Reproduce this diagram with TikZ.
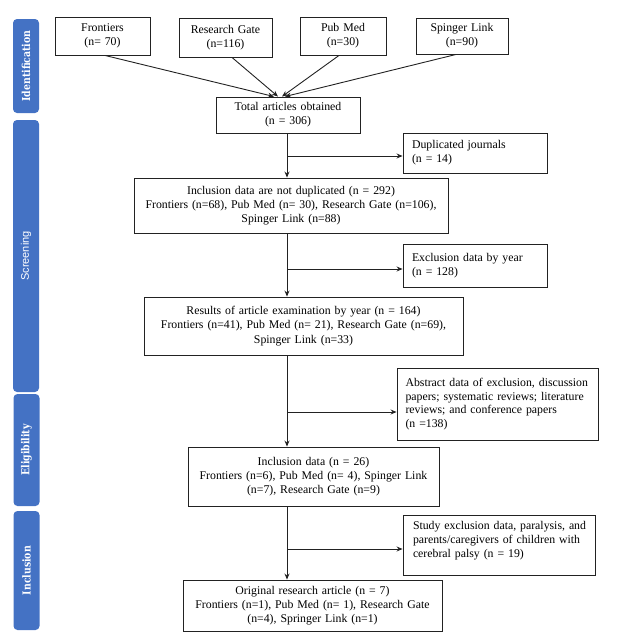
\documentclass[tikz,border=0pt]{standalone}
\usepackage{fontspec}
\setmainfont{Liberation Serif}
\newfontfamily\barserif{DejaVu Serif}
\newfontfamily\barsans{Liberation Sans}
\usetikzlibrary{arrows.meta}
\definecolor{barblue}{HTML}{4472C4}
\definecolor{boxline}{HTML}{222222}
\newcommand\oneline[1]{\mbox{#1}}
\newcommand\bartext[1]{\scalebox{0.85}[1]{#1}}
\tikzset{
  box/.style={draw=boxline, line width=0.9pt, inner sep=0pt, align=center,
    font=\fontsize{11.8}{14.3}\selectfont, text=black},
  lbox/.style={box, align=left},
  bar/.style={fill=barblue, rounded corners=4pt, rotate=90, inner sep=0pt,
    minimum height=26pt, text=white, font=\barserif\bfseries\fontsize{11}{12}\selectfont},
  conn/.style={line width=0.9pt, draw=boxline},
  arr/.style={conn, -{Stealth[length=6pt,width=5pt]}},
}
\begin{document}
\begin{tikzpicture}[x=1pt,y=-1pt]
\useasboundingbox (0,0) rectangle (623,641);
% phase bars
\node[bar, minimum width=94pt] (idb) at (26,66) {\bartext{Identification}};
\node[bar, minimum width=272pt, font=\barsans\fontsize{11}{12}\selectfont] (scb) at (26,256) {Screening};
\node[bar, minimum width=112pt] (elb) at (26.5,450) {\bartext{Eligibility}};
\node[bar, minimum width=119pt] (inb) at (26.5,570.5) {\bartext{Inclusion}};
% sources
\node[box, minimum width=95pt, minimum height=38pt, text width=92pt] (fr) at (102.5,36) {Frontiers\\(n= 70)};
\node[box, minimum width=93pt, minimum height=39pt, text width=90pt] (rg) at (225.5,37.5) {Research Gate\\(n=116)};
\node[box, minimum width=86pt, minimum height=38pt, text width=84pt] (pm) at (343,36) {Pub Med\\(n=30)};
\node[box, minimum width=92pt, minimum height=36pt, text width=90pt] (sl) at (462,36) {Spinger Link\\(n=90)};
% main column
\node[box, minimum width=144pt, minimum height=36pt, text width=142pt] (tot) at (288,115) {Total articles obtained\\(n = 306)};
\node[box, minimum width=314pt, minimum height=55pt, text width=310pt] (inc1) at (291,205.5) {Inclusion data are not duplicated (n = 292)\\Frontiers (n=68), Pub Med (n= 30), Research Gate (n=106),\\Spinger Link (n=88)};
\node[box, minimum width=319pt, minimum height=58pt, text width=315pt] (res) at (303.5,326) {Results of article examination by year (n = 164)\\Frontiers (n=41), Pub Med (n= 21), Research Gate (n=69),\\Spinger Link (n=33)};
\node[box, minimum width=251pt, minimum height=59pt, text width=248pt] (inc2) at (313.5,476.5) {Inclusion data (n = 26)\\Frontiers (n=6), Pub Med (n= 4), Spinger Link\\(n=7), Research Gate (n=9)};
\node[box, minimum width=259pt, minimum height=51pt, text width=256pt] (orig) at (312.5,605.5) {Original research article (n = 7)\\Frontiers (n=1), Pub Med (n= 1), Research Gate\\(n=4), Springer Link (n=1)};
% exclusion boxes
\node[lbox, minimum width=144pt, minimum height=40pt, text width=126pt] (dup) at (475,153) {\oneline{Duplicated journals}\\\oneline{(n = 14)}};
\node[lbox, minimum width=144pt, minimum height=43pt, text width=126pt] (exy) at (475,265.5) {\oneline{Exclusion data by year}\\\oneline{(n = 128)}};
\node[lbox, minimum width=201pt, minimum height=72pt, text width=184pt, font=\fontsize{11.8}{13.8}\selectfont] (abs) at (497.5,404) {\oneline{Abstract data of exclusion, discussion}\\\oneline{papers; systematic reviews; literature}\\\oneline{reviews; and conference papers}\\\oneline{(n =138)}};
\node[lbox, minimum width=192pt, minimum height=60pt, text width=172pt, font=\fontsize{11.8}{14}\selectfont] (stu) at (499,545) {\oneline{Study exclusion data, paralysis, and}\\\oneline{parents/caregivers of children with}\\\oneline{cerebral palsy (n = 19)}\\[-2pt]\mbox{}};
% connectors from sources
\draw[arr] ([xshift=2.5pt]fr.south) -- ([xshift=-14pt]tot.north);
\draw[arr] ([xshift=6.5pt]rg.south) -- ([xshift=-10pt]tot.north);
\draw[arr] ([xshift=-4pt]pm.south) -- ([xshift=-6pt]tot.north);
\draw[arr] ([xshift=-6pt]sl.south) -- ([xshift=-3pt]tot.north);
% spine
\coordinate (sp) at (287,0);
\draw[arr] (tot.south -| sp) -- (inc1.north -| sp);
\draw[arr] (inc1.south -| sp) -- (res.north -| sp);
\draw[arr] (res.south -| sp) -- (inc2.north -| sp);
\draw[arr] (inc2.south -| sp) -- (orig.north -| sp);
% branches
\coordinate (b1) at (287,156);
\coordinate (b2) at (287,269);
\coordinate (b3) at (287,412);
\coordinate (b4) at (287,549);
\draw[arr] (b1) -- (b1 -| dup.west);
\draw[arr] (b2) -- (b2 -| exy.west);
\draw[arr] (b3) -- (b3 -| abs.west);
\draw[arr] (b4) -- (b4 -| stu.west);
\end{tikzpicture}
\end{document}
